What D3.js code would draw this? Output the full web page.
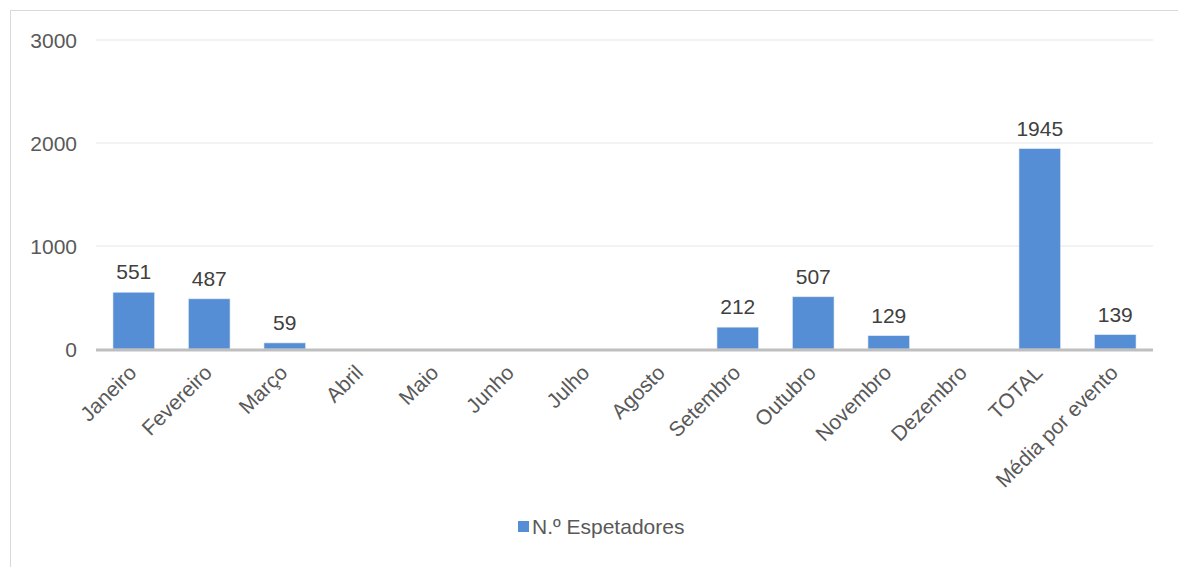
<!DOCTYPE html>
<html><head><meta charset="utf-8">
<script src="https://cdn.jsdelivr.net/npm/d3@7"></script>
<style>body{margin:0;background:#fff}svg{display:block}text{font-family:"Liberation Sans",Arial,sans-serif}</style>
</head><body><svg id="c" width="1178" height="567"></svg>
<script>
const categories=["Janeiro","Fevereiro","Março","Abril","Maio","Junho","Julho","Agosto","Setembro","Outubro","Novembro","Dezembro","TOTAL","Média por evento"];
const values=[551,487,59,null,null,null,null,null,212,507,129,null,1945,139];
const yTicks=[0,1000,2000,3000];
const seriesName="N.º Espetadores";
const svg=d3.select("#c");
svg.append("rect").attr("x",10.5).attr("y",10.5).attr("width",1180).attr("height",570).attr("fill","#fff").attr("stroke","#d9d9d9");
const x=d3.scaleBand().domain(categories).range([96,1153]).paddingInner(0.45).paddingOuter(0.225);
const y=d3.scaleLinear().domain([0,3000]).range([349,40]);
const g=svg.append("g");
g.selectAll("line.grid").data(yTicks.filter(d=>d>0)).join("line").attr("x1",96).attr("x2",1153).attr("y1",d=>y(d)).attr("y2",d=>y(d)).attr("stroke","#efefef").attr("stroke-width",1.5);
g.selectAll("text.yt").data(yTicks).join("text").attr("x",77).attr("y",d=>y(d)).attr("dy","0.36em").attr("text-anchor","end").attr("font-size",21).attr("fill","#595959").text(d=>d);
const data=categories.map((c,i)=>({c,v:values[i]}));
g.selectAll("rect.bar").data(data.filter(d=>d.v!=null)).join("rect").attr("x",d=>x(d.c)).attr("width",x.bandwidth()).attr("y",d=>y(d.v)).attr("height",d=>y(0)-y(d.v)).attr("fill","#558ed5").attr("stroke","#dce6f2").attr("stroke-width",0.6);
g.append("line").attr("x1",96).attr("x2",1153).attr("y1",y(0)+1).attr("y2",y(0)+1).attr("stroke","#bfbfbf").attr("stroke-width",3);
g.selectAll("text.lab").data(data.filter(d=>d.v!=null)).join("text").attr("x",d=>x(d.c)+x.bandwidth()/2).attr("y",d=>y(d.v)-13).attr("text-anchor","middle").attr("font-size",21).attr("fill","#404040").text(d=>d.v);
g.selectAll("text.xt").data(categories).join("text").attr("transform",d=>`translate(${x(d)+x.bandwidth()/2+4},${374}) rotate(-45)`).attr("text-anchor","end").attr("font-size",21).attr("fill","#595959").text(d=>d);
const lg=svg.append("g");
lg.append("rect").attr("x",518).attr("y",521).attr("width",11).attr("height",11).attr("fill","#558ed5");
lg.append("text").attr("x",532).attr("y",526).attr("dy","0.36em").attr("font-size",21).attr("fill","#595959").text(seriesName);
</script></body></html>
